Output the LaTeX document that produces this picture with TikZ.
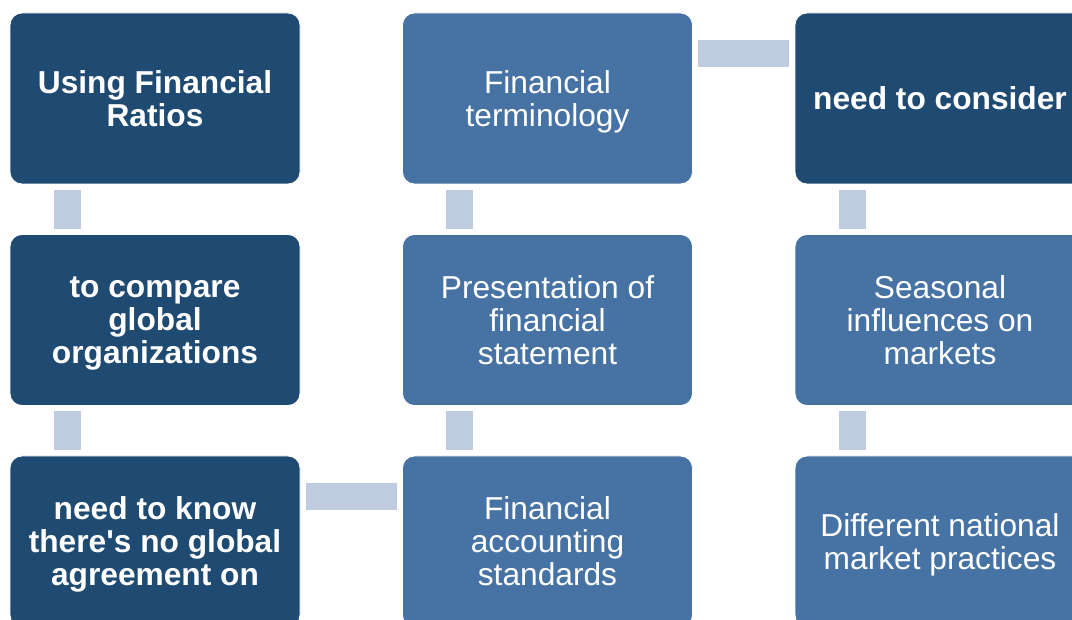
\documentclass[tikz,border=0pt]{standalone}
\usepackage{fontspec}
\setmainfont{Liberation Sans}
\definecolor{darkbox}{HTML}{1F4A72}
\definecolor{lightbox}{HTML}{4673A3}
\definecolor{linkcol}{HTML}{BFCCE0}
\tikzset{
  box/.style={rounded corners=12pt, minimum width=290pt, minimum height=171pt,
    align=center, text=white, draw=white, line width=0.8pt,
    font=\fontsize{31.7}{33}\selectfont, text depth=-6pt},
  dark/.style={box, fill=darkbox, font=\fontsize{31.7}{33}\selectfont\bfseries},
  light/.style={box, fill=lightbox},
  link/.style={draw=linkcol, line width=27pt, shorten <=5.5pt, shorten >=5.5pt}
}
\begin{document}
\begin{tikzpicture}[x=1pt, y=-1pt]
    \clip (0, 0) rectangle (1072, 620);
    \fill[white] (0, 0) rectangle (1072, 620);

    \node[dark] (a0) at (155, 98.5) {Using Financial\\Ratios};
    \node[dark] (a1) at (155, 320) {to compare\\global\\organizations};
    \node[dark] (a2) at (155, 541.5) {need to know\\there\textquotesingle s no global\\agreement on};
    \node[light] (b0) at (547.5, 98.5) {Financial\\terminology};
    \node[light] (b1) at (547.5, 320) {Presentation of\\financial\\statement};
    \node[light] (b2) at (547.5, 541.5) {Financial\\accounting\\standards};
    \node[dark] (c0) at (940, 98.5) {need to consider};
    \node[light] (c1) at (940, 320) {Seasonal\\influences on\\markets};
    \node[light] (c2) at (940, 541.5) {Different national\\market practices};

    \draw[link] ([xshift=57.5pt]a0.south west) -- ([xshift=57.5pt]a1.north west);
    \draw[link] ([xshift=57.5pt]a1.south west) -- ([xshift=57.5pt]a2.north west);
    \draw[link] ([yshift=-41pt]a2.north east) -- ([yshift=-41pt]b2.north west);
    \draw[link] ([xshift=57.5pt]b2.north west) -- ([xshift=57.5pt]b1.south west);
    \draw[link] ([xshift=57.5pt]b1.north west) -- ([xshift=57.5pt]b0.south west);
    \draw[link] ([yshift=-41pt]b0.north east) -- ([yshift=-41pt]c0.north west);
    \draw[link] ([xshift=57.5pt]c0.south west) -- ([xshift=57.5pt]c1.north west);
    \draw[link] ([xshift=57.5pt]c1.south west) -- ([xshift=57.5pt]c2.north west);
  \end{tikzpicture}
\end{document}
